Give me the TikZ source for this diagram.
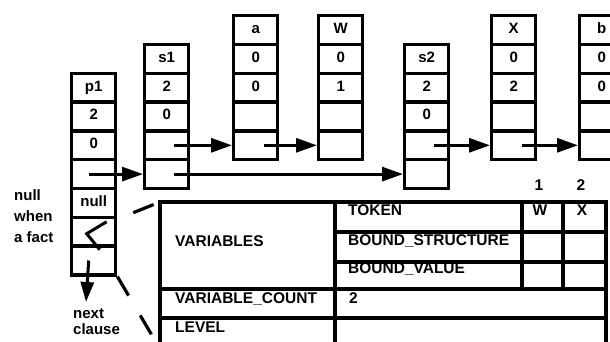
\documentclass[tikz,border=0pt]{standalone}
\usepackage{fontspec}
\setmainfont{Liberation Sans}
\usetikzlibrary{arrows.meta,calc}

% one vertical stack of record cells: name, left x, top y, labels
\newcommand\recstack[4]{%
  \foreach \lab [count=\i] in {#4} {
    \node[cell, anchor=north west] (#1-\i) at (#2, {#3+(\i-1)*28.8}) {\lab};
  }%
}

\begin{document}
\begin{tikzpicture}[x=1pt, y=-1pt,
  cell/.style={draw, rectangle, line width=3.4pt, minimum width=44pt,
    minimum height=28.8pt, inner sep=0pt, text height=10.5pt, text depth=3.5pt,
    font=\bfseries\fontsize{15}{15}\selectfont},
  link/.style={line width=3pt, -{Triangle[length=21pt,width=14pt]}},
  grid/.style={line width=3.2pt},
  dashln/.style={line width=3.2pt, dash pattern=on 22pt off 23pt},
  lbl/.style={inner sep=0pt, anchor=base west, font=\bfseries\fontsize{15.5}{15.5}\selectfont},
  note/.style={inner sep=0pt, anchor=north west, align=left}
]
\useasboundingbox (0,0) rectangle (610,342);

% clause records and their argument records
\recstack{p1}{70}{71.6}{p1,2,0,{},null,{},{}}
\recstack{s1}{143}{42.8}{s1,2,0,{},{}}
\recstack{ca}{232}{14}{a,0,0,{},{}}
\recstack{cW}{317}{14}{W,0,1,{},{}}
\recstack{s2}{403}{42.8}{s2,2,0,{},{}}
\recstack{cX}{490}{14}{X,0,2,{},{}}
\recstack{cb}{578}{14}{b,0,0,{},{}}

% pointer chains
\draw[link] ([xshift=-5pt]p1-4.center) -- (s1-5.west);
\draw[link] ([xshift=7pt]s1-4.center) -- (ca-5.west);
\draw[link] ([xshift=8pt]ca-5.center) -- (cW-5.west);
\draw[link] ([xshift=7pt]s1-5.center) -- (s2-5.west);
\draw[link] ([xshift=7pt]s2-4.center) -- (cX-5.west);
\draw[link] ([xshift=8pt]cX-5.center) -- (cb-5.west);

% next-clause pointer and null marker
\coordinate (nextc) at (86,302);
\draw[link, -{Triangle[length=20pt,width=13pt]}] ([xshift=-5pt]p1-7.center) -- (nextc);
\draw[line width=3pt] ([shift={(13,-10)}]p1-6.center) -- ([shift={(-7,2)}]p1-6.center)
  -- ([shift={(6,18)}]p1-6.center);

\node[note, font=\bfseries\fontsize{15}{21}\selectfont] (nullnote) at (14,189)
  {null\\when\\a fact};
\node[note, font=\bfseries\fontsize{15}{16}\selectfont] (nextnote) at (73,309)
  {next\\clause};

% variable table
\coordinate (tblnw) at (160,202);
\coordinate (tblbot) at (160,349);
\draw[grid] (160,352) -- (160,202) -- (606,202) -- (606,352);
\draw[grid] (335,202) -- (335,352);
\draw[grid] (160,289) -- (606,289);
\draw[grid] (160,318) -- (606,318);
\draw[grid] (335,232) -- (606,232);
\draw[grid] (335,262) -- (606,262);
\draw[grid] (522,202) -- (522,289);
\draw[grid] (563,202) -- (563,289);

\node[lbl] (tvars) at (175,246) {VARIABLES};
\node[lbl] (ttok) at (348,215) {TOKEN};
\node[lbl] (tbs) at (348,245) {BOUND\_STRUCTURE};
\node[lbl] (tbv) at (348,273) {BOUND\_VALUE};
\node[lbl] (tvc) at (175,303) {VARIABLE\_COUNT};
\node[lbl] (tvcv) at (349,303) {2};
\node[lbl] (tlev) at (175,332) {LEVEL};
\node[lbl, anchor=base] (tW) at (540,215) {W};
\node[lbl, anchor=base] (tX) at (582,215) {X};
\node[lbl, anchor=base] (tone) at (539,190) {1};
\node[lbl, anchor=base] (ttwo) at (581,190) {2};

% expansion of the clause record into the table
\draw[dashln, dash phase=28pt] (p1-5.south east) -- (tblnw);
\draw[dashln] (p1-7.south east) -- (tblbot);
\end{tikzpicture}
\end{document}
